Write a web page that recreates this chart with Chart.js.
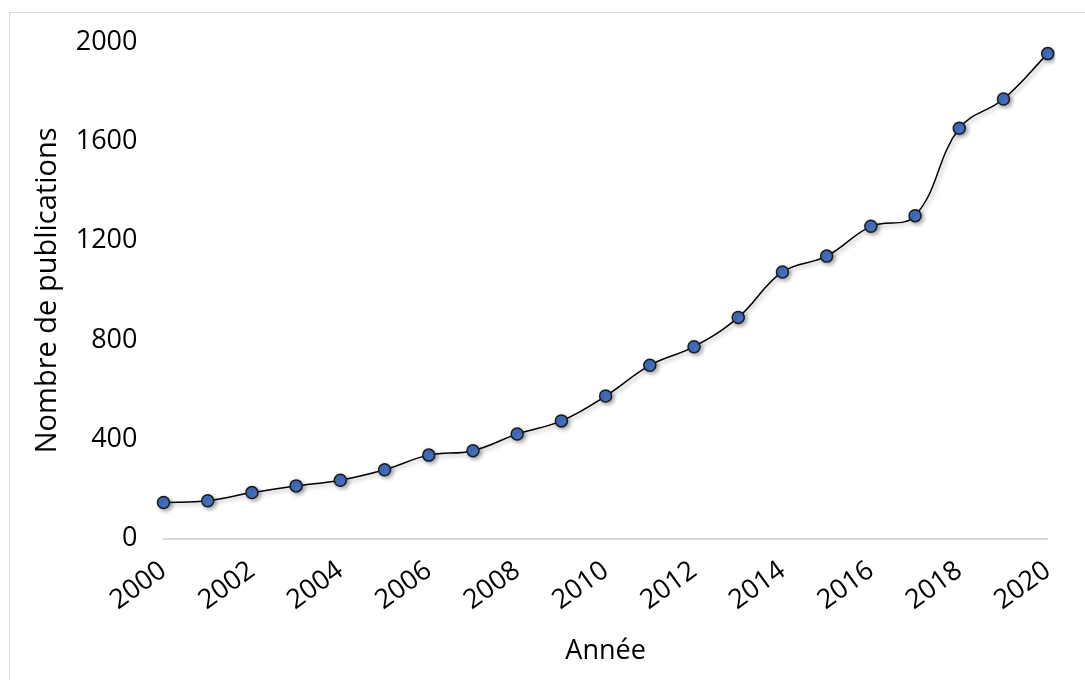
<!DOCTYPE html>
<html>
<head>
<meta charset="utf-8">
<script src="https://cdn.jsdelivr.net/npm/chart.js@4"></script>
<style>
  html, body { margin: 0; padding: 0; background: #fff; }
  #wrap { position: relative; width: 1085px; height: 680px; overflow: hidden; }
  #frame { position: absolute; left: 9px; top: 12px; width: 1200px; height: 800px; border: 1px solid #d9d9d9; pointer-events: none; }
  canvas { position: absolute; left: 0; top: 0; }
</style>
</head>
<body>
<div id="wrap">
  <div id="frame"></div>
  <canvas id="chart" width="1085" height="680"></canvas>
</div>
<script>
const years = [2000, 2001, 2002, 2003, 2004, 2005, 2006, 2007, 2008, 2009, 2010,
               2011, 2012, 2013, 2014, 2015, 2016, 2017, 2018, 2019, 2020];
const publications = [145, 152, 185, 212, 235, 277, 336, 354, 421, 474, 574,
                      698, 773, 891, 1074, 1138, 1258, 1301, 1653, 1771, 1954];
const yTicks = [0, 400, 800, 1200, 1600, 2000];

const font = 'Open Sans';

// ombre portée comme dans Excel
const shadowPlugin = {
    id: 'shadow',
    beforeDatasetsDraw(chart) {
        const c = chart.ctx;
        c.save();
        c.shadowColor = 'rgba(0,0,0,0.35)';
        c.shadowBlur = 4;
        c.shadowOffsetX = 2;
        c.shadowOffsetY = 2;
    },
    afterDatasetsDraw(chart) {
        chart.ctx.restore();
    }
};

new Chart(document.getElementById('chart').getContext('2d'), {
    type: 'line',
    data: {
        labels: years.map(String),
        datasets: [{
            data: publications,
            borderColor: '#000',
            borderWidth: 1.5,
            tension: 0.4,
            pointRadius: 6,
            pointBackgroundColor: '#4472C4',
            pointBorderColor: '#1a1a1a',
            pointBorderWidth: 1.5,
            fill: false
        }]
    },
    options: {
        responsive: false,
        animation: false,
        events: [],
        layout: { padding: { top: 38.5, right: 37.3, left: 0, bottom: 0 } },
        plugins: { legend: { display: false }, tooltip: { enabled: false } },
        scales: {
            x: {
                offset: false,
                grid: { display: false, drawTicks: false },
                border: { display: true, color: '#d9d9d9', width: 2 },
                ticks: {
                    autoSkip: false,
                    maxRotation: 36,
                    minRotation: 36,
                    padding: 16,
                    color: '#000',
                    font: { family: font, size: 27 },
                    callback: (v, i) => (years[i] % 2 === 0 ? String(years[i]) : '')
                },
                title: {
                    display: true,
                    text: 'Année',
                    color: '#000',
                    font: { family: font, size: 27 },
                    padding: { top: 0, bottom: 12 }
                },
                afterFit: (s) => { s.height = 141.5; }
            },
            y: {
                min: 0,
                max: 2000,
                afterBuildTicks: (s) => { s.ticks = yTicks.map(v => ({ value: v })); },
                grid: { display: false, drawTicks: false },
                border: { display: false },
                ticks: {
                    padding: 26,
                    color: '#000',
                    font: { family: font, size: 27 },
                    callback: (v) => String(v)
                },
                title: {
                    display: true,
                    text: 'Nombre de publications',
                    color: '#000',
                    font: { family: font, size: 29 },
                    padding: { top: 30, bottom: 0 }
                },
                afterFit: (s) => { s.width = 163.5; }
            }
        }
    },
    plugins: [shadowPlugin]
});
</script>
</body>
</html>
